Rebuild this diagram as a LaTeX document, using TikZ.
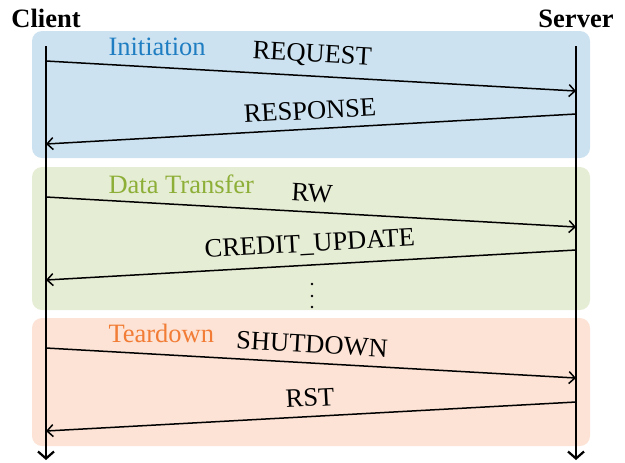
\documentclass[tikz,border=0pt]{standalone}
\usepackage{fontspec}
\setmainfont{Liberation Serif}
\usetikzlibrary{arrows.meta}
\definecolor{initfill}{HTML}{CCE2F0}
\definecolor{datafill}{HTML}{E6EDD5}
\definecolor{downfill}{HTML}{FCE3D5}
\definecolor{initcol}{HTML}{1F7DC2}
\definecolor{datacol}{HTML}{8DAF38}
\definecolor{downcol}{HTML}{F27C35}
\begin{document}
\begin{tikzpicture}[x=0.4pt,y=-0.4pt,
  font=\fontsize{10.6}{12}\selectfont,
  phase/.style={fill=#1, draw=none, rounded corners=4pt},
  phaselabel/.style={anchor=base west, inner sep=0pt, text=#1},
  party/.style={anchor=base, inner sep=0pt, font=\fontsize{10.6}{12}\selectfont\bfseries},
  lifeline/.style={line width=0.9pt, -{Straight Barb[length=2.8pt,width=6.4pt,line width=0.9pt]}},
  msg/.style={line width=0.6pt, -{Straight Barb[length=2.4pt,width=4.8pt,line width=0.6pt]}},
  msglabel/.style={midway, sloped, above=2.6pt, inner sep=1pt},
  gapdot/.style={fill=black, radius=0.55pt}]
\useasboundingbox (0,0) rectangle (625,462);

% phase backgrounds
\fill[phase=initfill] (32,31) rectangle (590,158);
\fill[phase=datafill] (32,167) rectangle (590,310);
\fill[phase=downfill] (32,318) rectangle (590,446);

% phase titles
\node[phaselabel=initcol] (tInit) at (108,55) {Initiation};
\node[phaselabel=datacol] (tData) at (108,193) {Data Transfer};
\node[phaselabel=downcol] (tDown) at (108,342) {Teardown};

% parties
\node[party] (client) at (46,27) {Client};
\node[party] (server) at (576,27) {Server};

% lifelines
\coordinate (cTop) at (46,46);
\coordinate (cEnd) at (46,460);
\coordinate (sTop) at (576,46);
\coordinate (sEnd) at (576,460);
\draw[lifeline] (cTop) -- (cEnd);
\draw[lifeline] (sTop) -- (sEnd);

% message end points on the lifelines
\coordinate (c1) at (46,61);   \coordinate (s1) at (576,91);
\coordinate (s2) at (576,114); \coordinate (c2) at (46,144);
\coordinate (c3) at (46,197);  \coordinate (s3) at (576,227);
\coordinate (s4) at (576,250); \coordinate (c4) at (46,280);
\coordinate (c5) at (46,348);  \coordinate (s5) at (576,378);
\coordinate (s6) at (576,402); \coordinate (c6) at (46,431);

% messages
\draw[msg] (c1) -- node[msglabel] (mReq) {REQUEST} (s1);
\draw[msg] (s2) -- node[msglabel] (mResp) {RESPONSE} (c2);
\draw[msg] (c3) -- node[msglabel] (mRw) {RW} (s3);
\draw[msg] (s4) -- node[msglabel] (mCredit) {CREDIT\_UPDATE} (c4);
% vertical ellipsis: more data messages follow
\fill[gapdot] (312,284) circle;
\fill[gapdot] (312,296) circle;
\fill[gapdot] (312,307) circle;
\draw[msg] (c5) -- node[msglabel] (mShut) {SHUTDOWN} (s5);
\draw[msg] (s6) -- node[msglabel] (mRst) {RST} (c6);
\end{tikzpicture}
\end{document}
